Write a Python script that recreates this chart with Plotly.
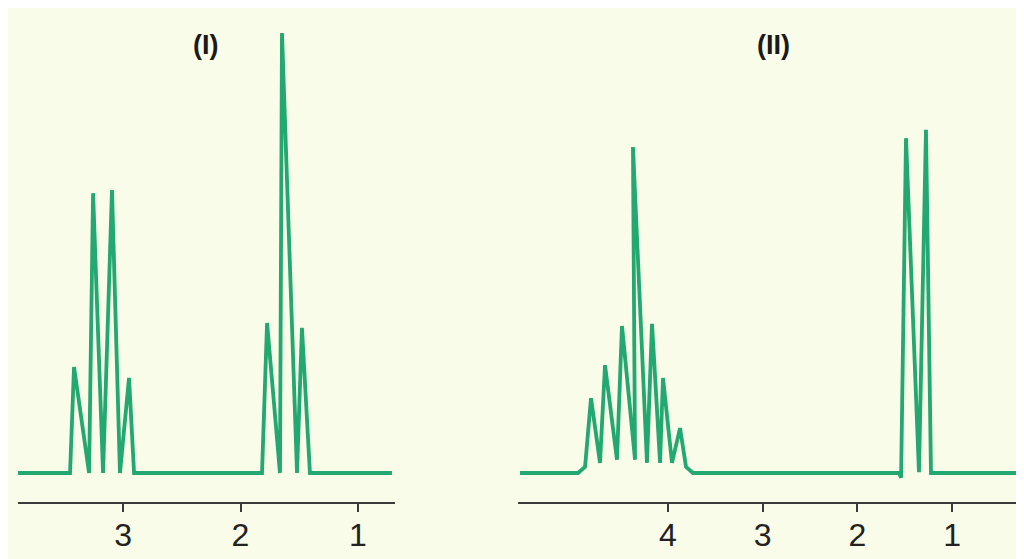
import plotly.graph_objects as go

# Spectrum (I): chemical shift (ppm) and relative intensity of the drawn vertices
ppm_I = [3.894, 3.451, 3.417, 3.289, 3.255, 3.170, 3.094, 3.026, 2.949, 2.906,
         1.817, 1.774, 1.664, 1.647, 1.519, 1.477, 1.409, 0.711]
int_I = [0, 0, 24.1, 0, 63.6, 0, 64.3, 0, 21.6, 0,
         0, 34.1, 0, 100.0, 0, 33.0, 0, 0]

# Spectrum (II)
ppm_II = [5.563, 4.950, 4.876, 4.813, 4.718, 4.665, 4.539, 4.486, 4.348, 4.370,
          4.222, 4.169, 4.084, 4.053, 3.958, 3.873, 3.810, 3.736,
          1.561, 1.539, 1.487, 1.350, 1.276, 1.223, 0.241]
int_II = [0, 0, 1.4, 17.0, 2.3, 24.5, 3.0, 33.4, 3.0, 74.1,
          2.3, 33.9, 2.3, 21.6, 2.3, 10.2, 1.4, 0,
          0, -1.1, 76.1, 0.2, 78.0, 0, 0]

ticks_I = [3, 2, 1]
ticks_II = [4, 3, 2, 1]
labels = ["(I)", "(II)"]

GREEN = "#22A870"
BG = "#F9FCE8"

fig = go.Figure()
fig.add_trace(go.Scatter(x=ppm_I, y=int_I, mode="lines", xaxis="x", yaxis="y",
                         line=dict(color=GREEN, width=3.8), showlegend=False,
                         hoverinfo="skip"))
fig.add_trace(go.Scatter(x=ppm_II, y=int_II, mode="lines", xaxis="x2", yaxis="y2",
                         line=dict(color=GREEN, width=3.8), showlegend=False,
                         hoverinfo="skip"))

# page body has an 8px margin, so the figure sits at (8, 8)
W, H = 1016, 551
ml, mr, mt, mb = 10, 0, 0, 57
pw = W - ml - mr

axis_common = dict(showline=True, linecolor="#3a3a3a", linewidth=2,
                   ticks="outside", ticklen=8, tickwidth=1.5, tickcolor="#3a3a3a",
                   showgrid=False, zeroline=False, ticklabelstandoff=-4,
                   tickfont=dict(family="Liberation Sans, Arial, sans-serif",
                                 size=32, color="#222222"))
yaxis_common = dict(range=[-6.59, 105.68], visible=False, showgrid=False,
                    zeroline=False, fixedrange=True)

fig.update_layout(
    width=W, height=H,
    margin=dict(l=ml, r=mr, t=mt, b=mb),
    paper_bgcolor=BG, plot_bgcolor=BG,
    xaxis=dict(domain=[0, (395 - 18) / pw], range=[3.894, 0.685],
               tickvals=ticks_I, ticktext=[str(t) for t in ticks_I],
               anchor="y", **axis_common),
    xaxis2=dict(domain=[(518 - 18) / pw, 1], range=[5.584, 0.241],
                tickvals=ticks_II, ticktext=[str(t) for t in ticks_II],
                anchor="y2", **axis_common),
    yaxis=dict(anchor="x", **yaxis_common),
    yaxis2=dict(anchor="x2", **yaxis_common),
    annotations=[
        dict(text="<b>" + labels[0] + "</b>", x=2.294, y=97.3, xref="x", yref="y",
             showarrow=False, font=dict(family="Liberation Sans, Arial, sans-serif",
                                        size=27, color="#1a1a1a")),
        dict(text="<b>" + labels[1] + "</b>", x=2.891, y=97.3, xref="x2", yref="y2",
             showarrow=False, font=dict(family="Liberation Sans, Arial, sans-serif",
                                        size=27, color="#1a1a1a")),
    ],
)

fig.write_html("out.html")
